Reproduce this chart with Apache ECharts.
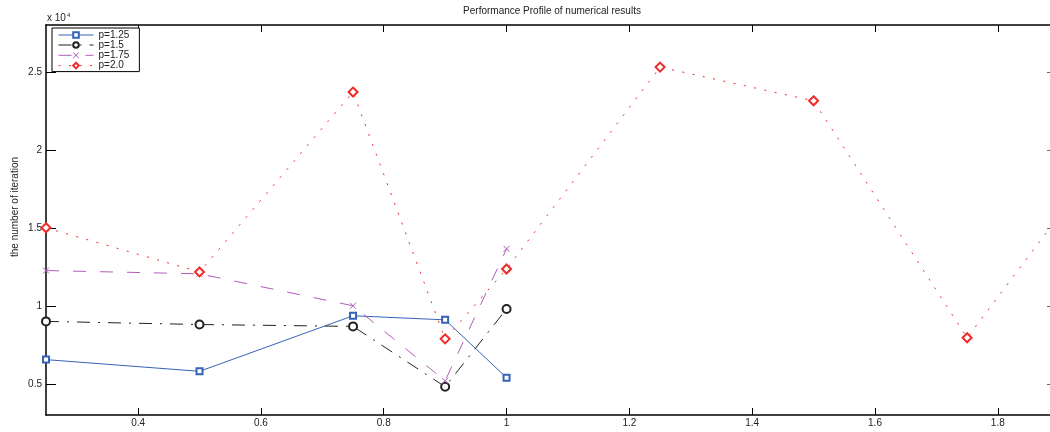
<!DOCTYPE html>
<html>
<head>
<meta charset="utf-8">
<script src="https://cdn.jsdelivr.net/npm/echarts@6/dist/echarts.min.js"></script>
<style>html,body{margin:0;padding:0;background:#fff}#c{width:1050px;height:432px}</style>
</head>
<body>
<div id="c"></div>
<script>
// data
const xShort = [0.25, 0.5, 0.75, 0.9, 1.0];
const xLong = [0.25, 0.5, 0.75, 0.9, 1.0, 1.25, 1.5, 1.75, 2.0];
const p125 = [6550, 5800, 9360, 9100, 5390];
const p150 = [9000, 8800, 8680, 4810, 9800];
const p175 = [12260, 12050, 10000, 5190, 13650];
const p200 = [15000, 12170, 23700, 7880, 12360, 25300, 23140, 7950, 21000];
const xTicks = [0.4, 0.6, 0.8, 1.0, 1.2, 1.4, 1.6, 1.8];
const yTicks = [5000, 10000, 15000, 20000, 25000];
const names = ['p=1.25', 'p=1.5', 'p=1.75', 'p=2.0'];

const pair = (xs, ys) => ys.map((v, i) => [xs[i], v]);
const FONT = 'Liberation Sans, Arial, sans-serif';
const TXT = '#222';

const chart = echarts.init(document.getElementById('c'), null, {renderer: 'canvas'});
chart.setOption({
  animation: false,
  backgroundColor: '#fff',
  textStyle: {fontFamily: FONT},
  grid: {left: 46, right: 0, top: 25, bottom: 17, containLabel: false},
  legend: {
    orient: 'vertical', left: 52, top: 28,
    padding: [2, 10, 1, 6],
    itemWidth: 35, itemHeight: 7, itemGap: 0,
    borderColor: '#000', borderWidth: 1, backgroundColor: '#fff',
    lineStyle: {width: 1},
    itemStyle: {borderWidth: 1},
    textStyle: {fontSize: 10, lineHeight: 10, color: TXT, fontFamily: FONT},
    data: names
  },
  graphic: [
    {type: 'text', x: 552, y: 6, style: {text: 'Performance Profile of numerical results', fontSize: 10, fill: TXT, fontFamily: FONT, align: 'center'}},
    {type: 'text', x: 47, y: 12, style: {text: 'x 10{s|4}', fontSize: 10, fill: TXT, fontFamily: FONT, rich: {s: {fontSize: 6, verticalAlign: 'top', padding: [0, 0, 6, 1]}}}},
    {type: 'text', x: 15, y: 207, rotation: Math.PI / 2, style: {text: 'the number of iteration', fontSize: 10, fill: TXT, fontFamily: FONT, align: 'center', verticalAlign: 'middle'}}
  ],
  xAxis: [{
    type: 'value', min: 0.25, max: 1.885, position: 'bottom',
    splitLine: {show: false},
    axisLine: {show: true, onZero: false, lineStyle: {color: '#000', width: 1.5}},
    axisTick: {show: true, inside: true, length: 7, customValues: xTicks, lineStyle: {color: '#000'}},
    axisLabel: {customValues: xTicks, fontSize: 10, color: TXT, margin: 3, fontFamily: FONT,
      formatter: v => String(+(+v).toFixed(1))}
  }, {
    type: 'value', min: 0.25, max: 1.885, position: 'top',
    splitLine: {show: false},
    axisLine: {show: true, onZero: false, lineStyle: {color: '#000', width: 1.5}},
    axisTick: {show: true, inside: true, length: 7, customValues: xTicks, lineStyle: {color: '#000'}},
    axisLabel: {show: false}
  }],
  yAxis: [{
    type: 'value', min: 3000, max: 28000, position: 'left',
    splitLine: {show: false},
    axisLine: {show: true, onZero: false, lineStyle: {color: '#000', width: 1.5}},
    axisTick: {show: true, inside: true, length: 10, customValues: yTicks, lineStyle: {color: '#000'}},
    axisLabel: {customValues: yTicks, fontSize: 10, color: TXT, margin: 4, fontFamily: FONT,
      formatter: v => String(+(v / 10000).toFixed(1))}
  }, {
    type: 'value', min: 3000, max: 28000, position: 'right',
    splitLine: {show: false},
    axisLine: {show: false},
    axisTick: {show: true, inside: true, length: 3, customValues: yTicks, lineStyle: {color: '#666'}},
    axisLabel: {show: false}
  }],
  series: [
    {
      name: names[0], type: 'line', data: pair(xShort, p125),
      symbol: 'emptyRect', symbolSize: 6,
      lineStyle: {color: '#3563b8', width: 1, type: 'solid'},
      itemStyle: {color: '#3563b8', borderWidth: 0.8}
    },
    {
      name: names[1], type: 'line', data: pair(xShort, p150),
      symbol: 'emptyCircle', symbolSize: 8,
      lineStyle: {color: '#222', width: 1, type: [13, 8, 2, 8]},
      itemStyle: {color: '#222', borderWidth: 0.8}
    },
    {
      name: names[2], type: 'line', data: pair(xShort, p175),
      symbol: 'path://M0,0L10,10M10,0L0,10', symbolSize: 6,
      lineStyle: {color: '#b15db8', width: 1, type: [13, 14]},
      itemStyle: {color: 'none', borderColor: '#b15db8', borderWidth: 1}
    },
    {
      name: names[3], type: 'line', data: pair(xLong, p200), clip: true,
      symbol: 'emptyDiamond', symbolSize: 9,
      lineStyle: {color: '#ee2a2a', width: 1, type: [2, 8.5]},
      itemStyle: {color: '#ee2a2a', borderWidth: 0.8}
    }
  ]
});
</script>
</body>
</html>
